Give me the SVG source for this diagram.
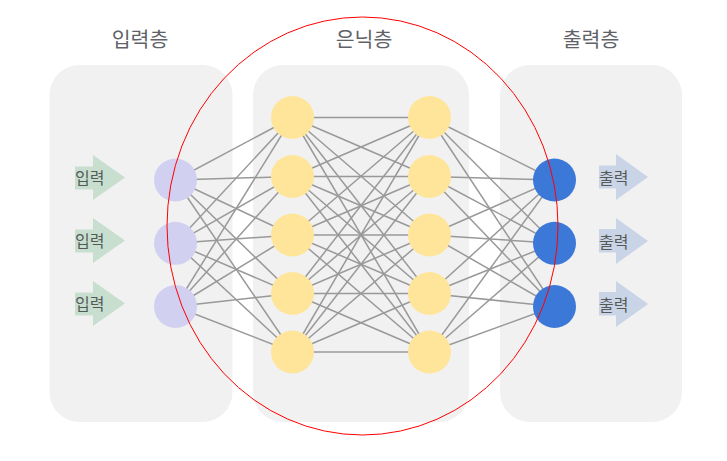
<svg xmlns="http://www.w3.org/2000/svg" width="727" height="461" viewBox="0 0 727 461">
<style>
.panel{fill:#f1f1f1}
.title{font-family:"Noto Sans CJK KR","Noto Sans",sans-serif;font-size:20.5px;fill:#5f6368;text-anchor:middle}
.lbl{font-family:"Noto Sans CJK KR","Noto Sans",sans-serif;font-size:16px;fill:#555a58}
.edges line{stroke:#999;stroke-width:1.5}
.in{fill:#d2d0f0}
.hid{fill:#ffe599}
.out{fill:#3c78d8}
.ain{fill:#c8dfd0}
.aout{fill:#c9d5e6}
</style>
<rect x="0" y="0" width="727" height="461" fill="#fff"/>
<g id="panel-input"><rect class="panel" x="49.5" y="65" width="183" height="357" rx="30"/></g>
<g id="panel-hidden"><rect class="panel" x="253" y="65" width="216" height="357" rx="30"/></g>
<g id="panel-output"><rect class="panel" x="500" y="65" width="182" height="357" rx="30"/></g>
<text class="title" x="140" y="47">입력층</text>
<text class="title" x="364" y="47">은닉층</text>
<text class="title" x="591" y="47">출력층</text>
<g class="edges" id="connectors">
<line x1="175.5" y1="180" x2="292.5" y2="117.5"/><line x1="175.5" y1="180" x2="292.5" y2="176.5"/><line x1="175.5" y1="180" x2="292.5" y2="235"/><line x1="175.5" y1="180" x2="292.5" y2="293.5"/><line x1="175.5" y1="180" x2="292.5" y2="352"/>
<line x1="175.5" y1="243.3" x2="292.5" y2="117.5"/><line x1="175.5" y1="243.3" x2="292.5" y2="176.5"/><line x1="175.5" y1="243.3" x2="292.5" y2="235"/><line x1="175.5" y1="243.3" x2="292.5" y2="293.5"/><line x1="175.5" y1="243.3" x2="292.5" y2="352"/>
<line x1="175.5" y1="306.5" x2="292.5" y2="117.5"/><line x1="175.5" y1="306.5" x2="292.5" y2="176.5"/><line x1="175.5" y1="306.5" x2="292.5" y2="235"/><line x1="175.5" y1="306.5" x2="292.5" y2="293.5"/><line x1="175.5" y1="306.5" x2="292.5" y2="352"/>
<line x1="292.5" y1="117.5" x2="429.5" y2="117.5"/><line x1="292.5" y1="117.5" x2="429.5" y2="176.5"/><line x1="292.5" y1="117.5" x2="429.5" y2="235"/><line x1="292.5" y1="117.5" x2="429.5" y2="293.5"/><line x1="292.5" y1="117.5" x2="429.5" y2="352"/>
<line x1="292.5" y1="176.5" x2="429.5" y2="117.5"/><line x1="292.5" y1="176.5" x2="429.5" y2="176.5"/><line x1="292.5" y1="176.5" x2="429.5" y2="235"/><line x1="292.5" y1="176.5" x2="429.5" y2="293.5"/><line x1="292.5" y1="176.5" x2="429.5" y2="352"/>
<line x1="292.5" y1="235" x2="429.5" y2="117.5"/><line x1="292.5" y1="235" x2="429.5" y2="176.5"/><line x1="292.5" y1="235" x2="429.5" y2="235"/><line x1="292.5" y1="235" x2="429.5" y2="293.5"/><line x1="292.5" y1="235" x2="429.5" y2="352"/>
<line x1="292.5" y1="293.5" x2="429.5" y2="117.5"/><line x1="292.5" y1="293.5" x2="429.5" y2="176.5"/><line x1="292.5" y1="293.5" x2="429.5" y2="235"/><line x1="292.5" y1="293.5" x2="429.5" y2="293.5"/><line x1="292.5" y1="293.5" x2="429.5" y2="352"/>
<line x1="292.5" y1="352" x2="429.5" y2="117.5"/><line x1="292.5" y1="352" x2="429.5" y2="176.5"/><line x1="292.5" y1="352" x2="429.5" y2="235"/><line x1="292.5" y1="352" x2="429.5" y2="293.5"/><line x1="292.5" y1="352" x2="429.5" y2="352"/>
<line x1="429.5" y1="117.5" x2="554.5" y2="180"/><line x1="429.5" y1="117.5" x2="554.5" y2="243.3"/><line x1="429.5" y1="117.5" x2="554.5" y2="306.5"/>
<line x1="429.5" y1="176.5" x2="554.5" y2="180"/><line x1="429.5" y1="176.5" x2="554.5" y2="243.3"/><line x1="429.5" y1="176.5" x2="554.5" y2="306.5"/>
<line x1="429.5" y1="235" x2="554.5" y2="180"/><line x1="429.5" y1="235" x2="554.5" y2="243.3"/><line x1="429.5" y1="235" x2="554.5" y2="306.5"/>
<line x1="429.5" y1="293.5" x2="554.5" y2="180"/><line x1="429.5" y1="293.5" x2="554.5" y2="243.3"/><line x1="429.5" y1="293.5" x2="554.5" y2="306.5"/>
<line x1="429.5" y1="352" x2="554.5" y2="180"/><line x1="429.5" y1="352" x2="554.5" y2="243.3"/><line x1="429.5" y1="352" x2="554.5" y2="306.5"/>
</g>
<g id="in-arrow-1"><polygon class="ain" points="75,166.5 93,166.5 93,155 125,177.5 93,200 93,189.5 75,189.5"/><text class="lbl" x="75" y="183.5">입력</text></g>
<g id="in-arrow-2"><polygon class="ain" points="75,229.5 93,229.5 93,218 125,240.5 93,263 93,252.5 75,252.5"/><text class="lbl" x="75" y="246.5">입력</text></g>
<g id="in-arrow-3"><polygon class="ain" points="75,292.5 93,292.5 93,281 125,303.5 93,326 93,315.5 75,315.5"/><text class="lbl" x="75" y="309.5">입력</text></g>
<g id="in-1"><circle class="in" cx="175.5" cy="180" r="21.5"/></g>
<g id="in-2"><circle class="in" cx="175.5" cy="243.3" r="21.5"/></g>
<g id="in-3"><circle class="in" cx="175.5" cy="306.5" r="21.5"/></g>
<g id="h1-1"><circle class="hid" cx="292.5" cy="117.5" r="21.5"/></g>
<g id="h1-2"><circle class="hid" cx="292.5" cy="176.5" r="21.5"/></g>
<g id="h1-3"><circle class="hid" cx="292.5" cy="235" r="21.5"/></g>
<g id="h1-4"><circle class="hid" cx="292.5" cy="293.5" r="21.5"/></g>
<g id="h1-5"><circle class="hid" cx="292.5" cy="352" r="21.5"/></g>
<g id="h2-1"><circle class="hid" cx="429.5" cy="117.5" r="21.5"/></g>
<g id="h2-2"><circle class="hid" cx="429.5" cy="176.5" r="21.5"/></g>
<g id="h2-3"><circle class="hid" cx="429.5" cy="235" r="21.5"/></g>
<g id="h2-4"><circle class="hid" cx="429.5" cy="293.5" r="21.5"/></g>
<g id="h2-5"><circle class="hid" cx="429.5" cy="352" r="21.5"/></g>
<g id="out-1"><circle class="out" cx="554.5" cy="180" r="21.5"/></g>
<g id="out-2"><circle class="out" cx="554.5" cy="243.3" r="21.5"/></g>
<g id="out-3"><circle class="out" cx="554.5" cy="306.5" r="21.5"/></g>
<g id="out-arrow-1"><polygon class="aout" points="599,165.5 616,165.5 616,154 648,177 616,200 616,188.5 599,188.5"/><text class="lbl" x="599" y="183.5">출력</text></g>
<g id="out-arrow-2"><polygon class="aout" points="599,229 616,229 616,218 648,241 616,264 616,252.5 599,252.5"/><text class="lbl" x="599" y="247.5">출력</text></g>
<g id="out-arrow-3"><polygon class="aout" points="599,292 616,292 616,281 648,304 616,327 616,315.5 599,315.5"/><text class="lbl" x="599" y="310.5">출력</text></g>
<g id="highlight"><ellipse cx="362.5" cy="226" rx="195.5" ry="209" fill="none" stroke="#ff0000" stroke-width="1"/></g>
</svg>
